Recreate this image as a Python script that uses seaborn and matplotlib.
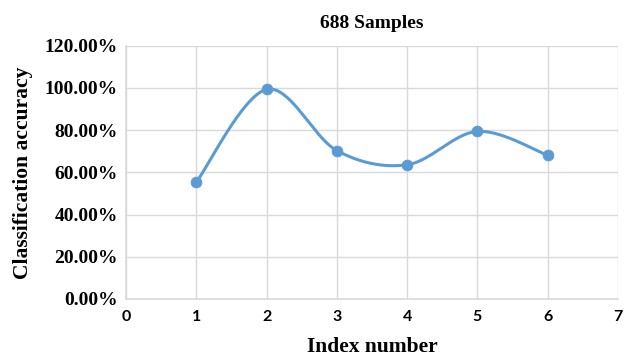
import numpy as np
import pandas as pd
import matplotlib
matplotlib.use("Agg")
import matplotlib.pyplot as plt
import seaborn as sns

index_numbers = [1, 2, 3, 4, 5, 6]
accuracy = [55.3, 99.3, 70.3, 63.6, 79.4, 68.1]
y_ticks = [0, 20, 40, 60, 80, 100, 120]
x_ticks = [0, 1, 2, 3, 4, 5, 6, 7]
title = "688 Samples"
x_label = "Index number"
y_label = "Classification accuracy"

sns.set_theme(style="white")
plt.rcParams["text.color"] = "black"
plt.rcParams["axes.labelcolor"] = "black"
serif = ["Liberation Serif", "DejaVu Serif"]

df = pd.DataFrame({"x": index_numbers, "y": accuracy})


def smooth(xs, ys, n=40):
    # Excel-style smoothed line: cubic Bezier through points (Catmull-Rom)
    P = np.column_stack([xs, ys]).astype(float)
    ext = np.vstack([P[0], P, P[-1]])
    out = []
    t = np.linspace(0, 1, n)[:, None]
    for i in range(len(P) - 1):
        p0, p1, p2, p3 = ext[i], ext[i + 1], ext[i + 2], ext[i + 3]
        c1 = p1 + (p2 - p0) / 6
        c2 = p2 - (p3 - p1) / 6
        seg = ((1 - t) ** 3) * p1 + 3 * ((1 - t) ** 2) * t * c1 + 3 * (1 - t) * t ** 2 * c2 + t ** 3 * p2
        out.append(seg)
    arr = np.vstack(out)
    return arr[:, 0], arr[:, 1]


fig, ax = plt.subplots(figsize=(6.3, 3.57), dpi=100)
fig.subplots_adjust(left=0.2, right=0.981, top=0.872, bottom=0.1625)

color = "#5B9BD5"
sx, sy = smooth(df["x"].values, df["y"].values)
ax.plot(sx, sy, color=color, lw=2.2, zorder=3)
sns.scatterplot(data=df, x="x", y="y", ax=ax, color=color, s=60, edgecolor=color, zorder=4)

ax.set_xlim(0, 7)
ax.set_ylim(0, 120)
ax.set_xticks(x_ticks)
ax.set_yticks(y_ticks)
ax.set_yticklabels([f"{v:.2f}%" for v in y_ticks], fontfamily=serif, fontweight="bold", fontsize=14, color="black")
ax.set_xticklabels([str(v) for v in x_ticks], fontfamily=["Lato", "DejaVu Sans"], fontweight="bold", fontsize=11.5, color="black")
ax.tick_params(axis="y", length=0, pad=6)
ax.tick_params(axis="x", length=0, pad=8)
ax.grid(True, color="#D9D9D9", lw=1.0)
ax.set_axisbelow(True)
for side in ["top", "right"]:
    ax.spines[side].set_visible(False)
for side in ["left", "bottom"]:
    ax.spines[side].set_color("#D9D9D9")
    ax.spines[side].set_linewidth(1.2)

ax.set_title(title, fontfamily=serif, fontweight="bold", fontsize=14, pad=13, color="black")
ax.set_xlabel(x_label, fontfamily=serif, fontweight="bold", fontsize=15.5, labelpad=9, color="black")
ax.set_ylabel(y_label, fontfamily=serif, fontweight="bold", fontsize=15.5, labelpad=8, color="black")

fig.savefig("out.png", dpi=100)
